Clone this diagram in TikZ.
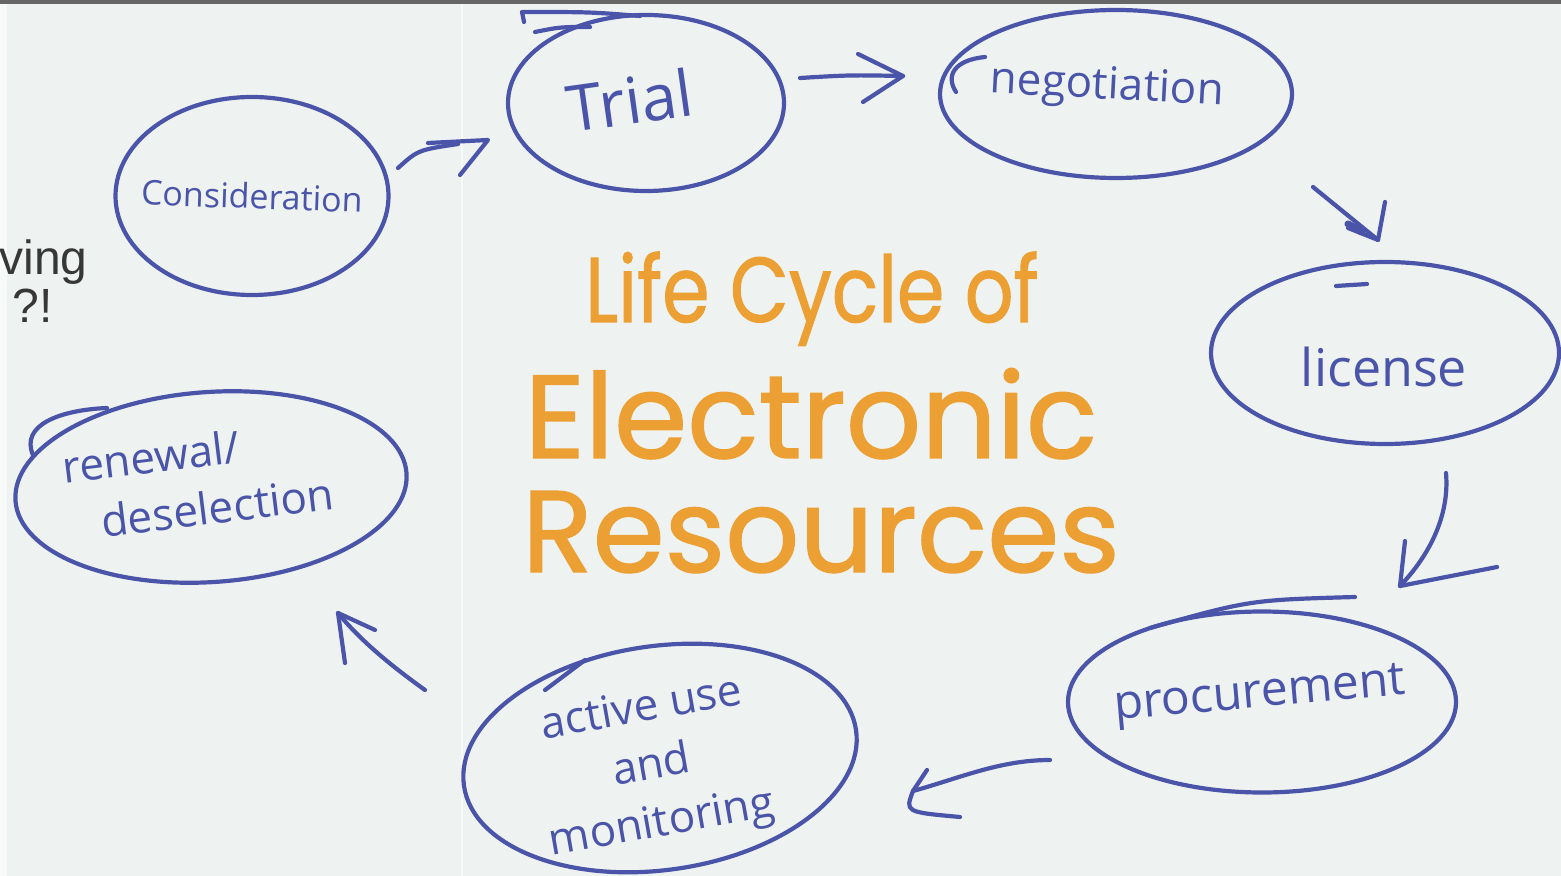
\documentclass[tikz,border=0pt]{standalone}
\usepackage{fontspec}
\setmainfont{Liberation Sans}
\newfontfamily\handfont{Open Sans}
\newfontfamily\titlefont{Poppins}[FakeBold=1.2]
\usetikzlibrary{shapes.geometric}
\definecolor{pen}{RGB}{74,84,168}
\definecolor{ttl}{RGB}{236,160,52}
\definecolor{paper}{RGB}{238,243,241}
\definecolor{inkgray}{RGB}{55,55,55}
\begin{document}
\begin{tikzpicture}[x=0.5pt,y=-0.5pt,
  stage/.style={ellipse, draw=pen, line width=2.1pt, inner sep=0pt},
  hand/.style={draw=pen, line width=2.1pt, line cap=round, line join=round},
  lbl/.style={text=pen, inner sep=0pt},
  ttlstyle/.style={text=ttl, inner sep=0pt, anchor=base}]
\useasboundingbox (0,0) rectangle (1561,876);
\fill[paper] (0,0) rectangle (1561,876);
\fill[white!60!paper] (0,4) rectangle (7,876);
\fill[black!60] (0,0) rectangle (1561,4);
\draw[white, opacity=0.6, line width=0.8pt] (462,4) -- (462,876);

% left cut-off text
\node[anchor=base east, text=inkgray, inner sep=0pt, font=\fontsize{24}{24}\selectfont] (ving) at (88,275) {ving};
\node[anchor=base east, text=inkgray, inner sep=0pt, font=\fontsize{24}{24}\selectfont] (qex) at (53,323) {?!};

% title
\node[ttlstyle, font=\titlefont\fontsize{46}{46}\selectfont, xscale=0.83] (t1) at (812,322) {Life Cycle of};
\node[ttlstyle, font=\titlefont\fontsize{59}{59}\selectfont] (t2) at (811,458) {Electronic};
\node[ttlstyle, font=\titlefont\fontsize{58}{58}\selectfont] (t3) at (821,572) {Resources};

% stages
\node[stage, minimum width=136.5pt, minimum height=99pt] (cons) at (252,196) {};
\node[stage, minimum width=138pt, minimum height=88pt] (trial) at (646,103) {};
\node[stage, minimum width=176pt, minimum height=84pt] (nego) at (1116,94) {};
\node[stage, minimum width=174pt, minimum height=91pt] (lic) at (1385,353) {};
\node[stage, minimum width=194pt, minimum height=90.5pt] (proc) at (1262,702) {};
\node[stage, minimum width=198pt, minimum height=112pt, rotate=8] (act) at (660,758) {};
\node[stage, minimum width=196pt, minimum height=95pt, rotate=4] (ren) at (211,487) {};

% hand-drawn overshoots
\draw[hand] (640,16) .. controls (590,12) .. (522,12) -- (524,22);
\draw[hand] (590,27) .. controls (560,27) .. (535,32);
\draw[hand] (985,57) .. controls (955,60) and (945,75) .. (956,92);
\draw[hand] (1336,286) -- (1367,284);
\draw[hand] (1150,628) .. controls (1250,600) .. (1355,597);
\draw[hand] (545,690) -- (585,660);
\draw[hand] (107,408) .. controls (60,410) and (20,425) .. (33,455);

% labels
\node[lbl, font=\handfont\fontsize{17}{17}\selectfont, rotate=-2] (lcons) at (252,196) {Consideration};
\node[lbl, font=\handfont\fontsize{32}{32}\selectfont, rotate=8] (ltrial) at (630,100) {Trial};
\node[lbl, font=\handfont\fontsize{22}{22}\selectfont, rotate=-3] (lnego) at (1107,88) {negotiation};
\node[lbl, font=\handfont\fontsize{26}{26}\selectfont] (llic) at (1384,367) {license};
\node[lbl, font=\handfont\fontsize{24}{24}\selectfont, rotate=5] (lproc) at (1260,697) {procurement};
\node[lbl, font=\handfont\fontsize{22}{29}\selectfont, rotate=10, align=center] (lact) at (652,768) {active use\\and\\monitoring};
\node[lbl, font=\handfont\fontsize{22}{29}\selectfont, rotate=7, align=left] (lren) at (198,480) {renewal/\\\hspace{16pt}deselection};

% arrows
\coordinate (a1s) at (398,168); \coordinate (a1e) at (458,144); \coordinate (a1t) at (488,140);
\draw[hand] (a1s) .. controls (418,150) .. (a1e);
\draw[hand] (a1t) ++(-60,3) -- (a1t) -- ++(-28,35);

\coordinate (a2s) at (800,78); \coordinate (a2t) at (903,76);
\draw[hand] (a2s) .. controls (850,75) .. (a2t);
\draw[hand] (a2t) ++(-45,-22) -- (a2t) -- ++(-40,26);

\coordinate (a3s) at (1313,187); \coordinate (a3t) at (1378,240);
\draw[hand] (a3s) -- (a3t);
\draw[hand] (a3t) ++(-30,-12) -- (a3t) -- ++(7,-38);
\draw[hand, line width=3.6pt] (1348,224) -- (1362,232);

\coordinate (a4s) at (1446,473); \coordinate (a4t) at (1400,586);
\draw[hand] (a4s) .. controls (1450,520) and (1425,560) .. (a4t);
\draw[hand] (a4t) ++(5,-45) -- (a4t) -- ++(97,-19);

\coordinate (a5s) at (1050,760); \coordinate (a5t) at (913,791);
\draw[hand] (a5s) .. controls (1000,760) and (960,778) .. (a5t);
\draw[hand] (a5t) ++(14,-21) -- (a5t) .. controls (905,812) .. (960,817);

\coordinate (a6s) at (425,690); \coordinate (a6t) at (338,613);
\draw[hand] (a6s) .. controls (390,665) and (360,640) .. (a6t);
\draw[hand] (a6t) ++(7,50) -- (a6t) -- ++(37,17);
\end{tikzpicture}
\end{document}
